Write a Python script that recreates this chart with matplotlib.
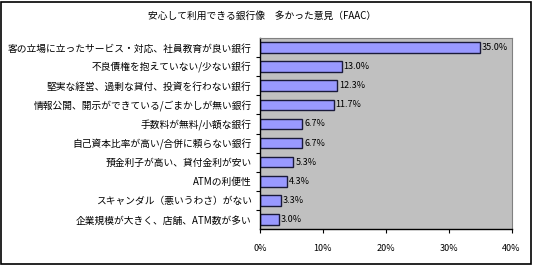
import matplotlib
matplotlib.use("Agg")
import matplotlib.pyplot as plt
from matplotlib.patches import Rectangle
from matplotlib.ticker import FixedLocator

plt.rcParams['font.family'] = ['Noto Sans CJK JP', 'DejaVu Sans']

# ---------------- DATA ----------------
TITLE = "安心して利用できる銀行像　多かった意見（FAAC）"
categories = [
    "客の立場に立ったサービス・対応、社員教育が良い銀行",
    "不良債権を抱えていない/少ない銀行",
    "堅実な経営、過剰な貸付、投資を行わない銀行",
    "情報公開、開示ができている/ごまかしが無い銀行",
    "手数料が無料/小額な銀行",
    "自己資本比率が高い/合併に頼らない銀行",
    "預金利子が高い、貸付金利が安い",
    "ATMの利便性",
    "スキャンダル（悪いうわさ）がない",
    "企業規模が大きく、店舗、ATM数が多い",
]
values = [35.0, 13.0, 12.3, 11.7, 6.7, 6.7, 5.3, 4.3, 3.3, 3.0]
xticks = [0, 10, 20, 30, 40]
xtick_labels = ["0%", "10%", "20%", "30%", "40%"]
# --------------------------------------

fig = plt.figure(figsize=(5.33, 2.65), dpi=100)
ax = fig.add_axes([260 / 533, 1 - 229 / 265, 251.5 / 533, 191 / 265])

pos = list(range(len(categories)))
ax.barh(pos, values, height=0.56, color="#9999ff", edgecolor="#1a1a3a", linewidth=1.0)
ax.set_ylim(len(categories) - 0.5, -0.5)
ax.set_xlim(0, 40)
ax.set_facecolor("#c0c0c0")

for p, v in zip(pos, values):
    ax.text(v + 0.3, p, f"{v:.1f}%", va="center", ha="left", fontsize=6.5)

ax.set_yticks(pos)
ax.set_yticklabels(categories, fontsize=7)
ax.yaxis.set_minor_locator(FixedLocator([p + 0.5 for p in pos[:-1]]))
ax.tick_params(axis="y", which="major", length=0, pad=6)
ax.tick_params(axis="y", which="minor", length=3, width=0.8)

ax.set_xticks(xticks)
ax.set_xticklabels(xtick_labels, fontsize=6.5)
ax.tick_params(axis="x", length=3, width=0.8, pad=8)

for side in ["top", "right"]:
    ax.spines[side].set_color("#808080")
    ax.spines[side].set_linewidth(0.8)
for side in ["left", "bottom"]:
    ax.spines[side].set_color("black")
    ax.spines[side].set_linewidth(1.0)

fig.text(262 / 533, 1 - 16 / 265, TITLE, ha="center", va="center", fontsize=7)

# outer frame of the chart
fig.patches.append(Rectangle((0.002, 0.004), 0.994, 0.99, transform=fig.transFigure,
                             fill=False, edgecolor="black", linewidth=1.2))

fig.savefig("out.png", dpi=100)
